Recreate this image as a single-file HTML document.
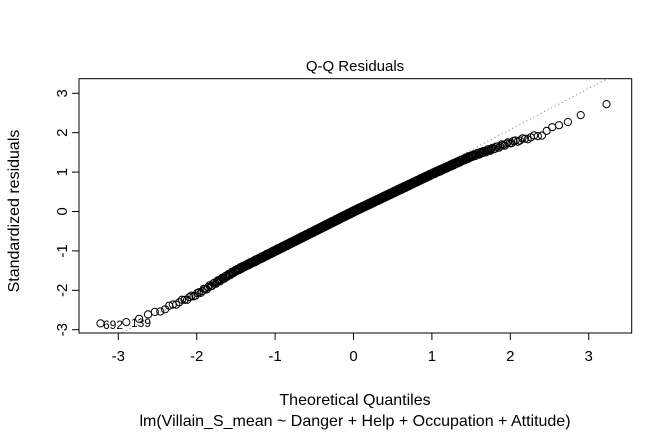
<!DOCTYPE html>
<html><head><style>body{margin:0;background:#fff}svg{display:block;font-family:"Liberation Sans",Arial,sans-serif}</style></head>
<body>
<svg id="s" width="672" height="432" viewBox="0 0 672 432" xmlns="http://www.w3.org/2000/svg">
<rect width="672" height="432" fill="#fff"/>
<defs><clipPath id="c"><rect x="79" y="78.7" width="552.7" height="254.3"/></clipPath></defs>
<line x1="55" y1="367.6" x2="660" y2="51.2" stroke="#777" stroke-width="1" stroke-dasharray="1,3" clip-path="url(#c)"/>
<g id="pts" fill="none" stroke="#000" stroke-width="1"></g>
<rect x="79" y="78.7" width="552.7" height="254.3" fill="none" stroke="#000" stroke-width="1"/>
<g stroke="#000" id="ticks"></g>
<g font-size="15" fill="#000" id="lab"></g>
<text x="355" y="71" font-size="15" text-anchor="middle">Q-Q Residuals</text>
<text x="355" y="405" font-size="16" text-anchor="middle">Theoretical Quantiles</text>
<text x="355" y="426" font-size="16" text-anchor="middle">lm(Villain_S_mean ~ Danger + Help + Occupation + Attitude)</text>
<text transform="translate(19,211) rotate(-90)" font-size="16" text-anchor="middle">Standardized residuals</text>
<text x="103" y="329" font-size="12">692</text>
<text x="131" y="327" font-size="12">139</text>
</svg>
<script>
var NS="http://www.w3.org/2000/svg";
function X(v){return 353.5+78.4*v}function Y(v){return 211.5-39.4*v}
function qn(p){var a=[-39.69683028665376,220.9460984245205,-275.9285104469687,138.357751867269,-30.66479806614716,2.506628277459239],b=[-54.47609879822406,161.5858368580409,-155.6989798598866,66.80131188771972,-13.28068155288572],c=[-0.007784894002430293,-0.3223964580411365,-2.400758277161838,-2.549732539343734,4.374664141464968,2.938163982698783],d=[0.007784695709041462,0.3224671290700398,2.445134137142996,3.754408661907416],q,r;
if(p<0.02425){q=Math.sqrt(-2*Math.log(p));return(((((c[0]*q+c[1])*q+c[2])*q+c[3])*q+c[4])*q+c[5])/((((d[0]*q+d[1])*q+d[2])*q+d[3])*q+1)}
if(p>1-0.02425){return -qn(1-p)}
q=p-0.5;r=q*q;return(((((a[0]*r+a[1])*r+a[2])*r+a[3])*r+a[4])*r+a[5])*q/(((((b[0]*r+b[1])*r+b[2])*r+b[3])*r+b[4])*r+1)}
var A=[[-3.3,-2.88],[-3.22,-2.87],[-2.9,-2.8],[-2.5,-2.55],[-2,-2.1],[-1.5,-1.5],[-1,-1.0],[0,0],[1,0.95],[1.5,1.4],[2,1.75],[2.4,1.95],[2.6,2.2],[2.8,2.33],[3.23,2.72],[3.3,2.78]];
function f(x){for(var i=1;i<A.length;i++){if(x<=A[i][0]){var t=(x-A[i-1][0])/(A[i][0]-A[i-1][0]);return A[i-1][1]+t*(A[i][1]-A[i-1][1])}}return A[A.length-1][1]}
var n=800,g=document.getElementById("pts"),h="";
for(var i=1;i<=n;i++){var x=qn((i-0.5)/n),y=f(x)+0.03*Math.sin(i*1.7);h+='<circle cx="'+X(x).toFixed(1)+'" cy="'+Y(y).toFixed(1)+'" r="3.6"/>'}
g.innerHTML=h;
var t="",l="";
for(var v=-3;v<=3;v++){t+='<line x1="'+X(v)+'" y1="333" x2="'+X(v)+'" y2="340"/>';l+='<text x="'+X(v)+'" y="361" text-anchor="middle">'+(v<0?"-"+(-v):v)+'</text>';
t+='<line x1="72" y1="'+Y(v)+'" x2="79" y2="'+Y(v)+'"/>';l+='<text transform="translate(67,'+Y(v)+') rotate(-90)" text-anchor="middle">'+(v<0?"-"+(-v):v)+'</text>'}
document.getElementById("ticks").innerHTML=t;document.getElementById("lab").innerHTML=l;
</script>
</body></html>
